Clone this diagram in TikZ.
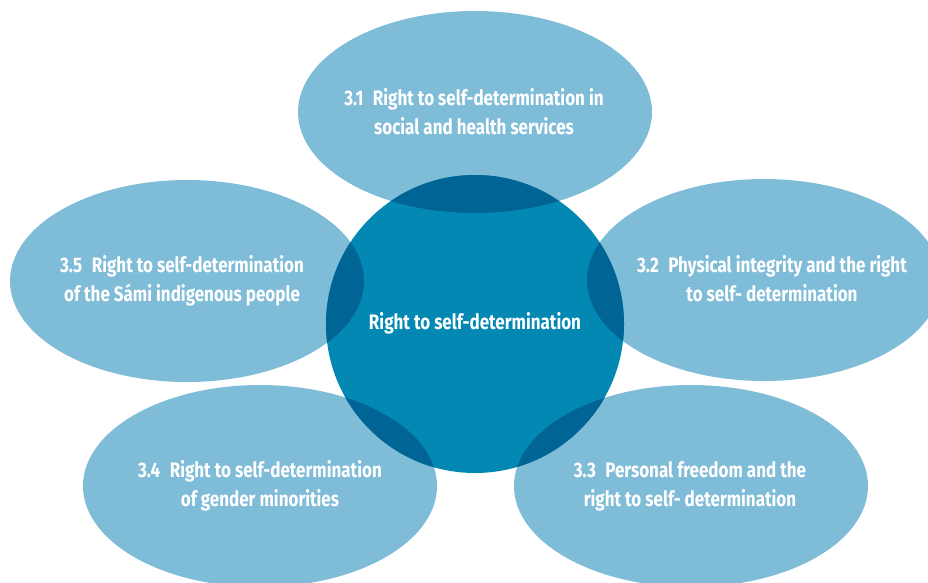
\documentclass[tikz,border=0pt]{standalone}
\usepackage{fontspec}
\setmainfont{Fira Sans}[FakeStretch=0.81]
\definecolor{lightblue}{HTML}{7FBCD8}
\definecolor{midblue}{HTML}{0288B3}
\definecolor{darkblue}{HTML}{006595}
\begin{document}
\begin{tikzpicture}[x=1pt,y=-1pt,
  lbl/.style={text=white,font=\fontsize{21}{29}\selectfont\bfseries,align=center,inner sep=0pt}]
\useasboundingbox (0,0) rectangle (928,582);
\begin{scope}
\clip (0,0) rectangle (928,582);
% outer ellipses
\fill[lightblue] (475,112) ellipse [x radius=177pt, y radius=101pt];
\fill[lightblue] (764,280) ellipse [x radius=177pt, y radius=101pt];
\fill[lightblue] (187,281) ellipse [x radius=177pt, y radius=101pt];
\fill[lightblue] (260,486) ellipse [x radius=177pt, y radius=101pt];
\fill[lightblue] (691,486) ellipse [x radius=177pt, y radius=101pt];
% centre circle
\fill[midblue] (475,324) circle [radius=149pt];
% overlaps
\begin{scope}
\clip (475,324) circle [radius=149pt];
\fill[darkblue] (475,112) ellipse [x radius=177pt, y radius=101pt];
\fill[darkblue] (764,280) ellipse [x radius=177pt, y radius=101pt];
\fill[darkblue] (187,281) ellipse [x radius=177pt, y radius=101pt];
\fill[darkblue] (260,486) ellipse [x radius=177pt, y radius=101pt];
\fill[darkblue] (691,486) ellipse [x radius=177pt, y radius=101pt];
\end{scope}
\end{scope}
% labels
\node[lbl] (c)  at (475,323) {Right to self-determination};
\node[lbl] (t1) at (474,112) {3.1\hspace{0.45em}Right to self-determination in\\social and health services};
\node[lbl] (t2) at (772,279) {3.2\hspace{0.45em}Physical integrity and the right\\to self- determination};
\node[lbl] (t5) at (182,281) {3.5\hspace{0.45em}Right to self-determination\\of the Sámi indigenous people};
\node[lbl] (t4) at (260,486) {3.4\hspace{0.45em}Right to self-determination\\of gender minorities};
\node[lbl] (t3) at (690,486) {3.3\hspace{0.45em}Personal freedom and the\\right to self- determination};
\end{tikzpicture}
\end{document}
